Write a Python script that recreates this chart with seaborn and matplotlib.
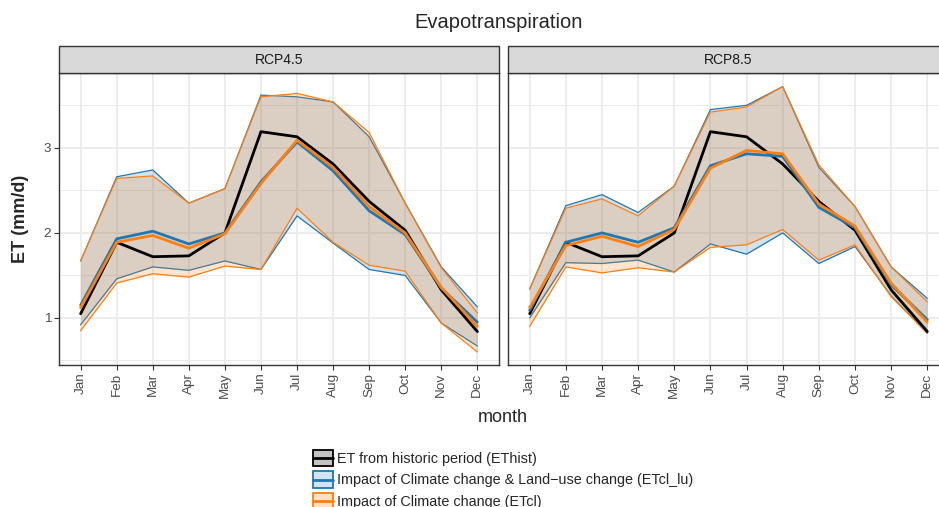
import numpy as np
import pandas as pd
import matplotlib
matplotlib.use('Agg')
import matplotlib.pyplot as plt
import seaborn as sns
from matplotlib.patches import Patch, Rectangle
from matplotlib.lines import Line2D
from matplotlib.legend_handler import HandlerBase
from matplotlib.ticker import MultipleLocator

# ------------------------------------------------------------------
# Data
# ------------------------------------------------------------------

months = ['Jan', 'Feb', 'Mar', 'Apr', 'May', 'Jun',
          'Jul', 'Aug', 'Sep', 'Oct', 'Nov', 'Dec']
scenarios = ['RCP4.5', 'RCP8.5']

# ET from historic period (same in both panels)
et_hist = [1.05, 1.89, 1.72, 1.73, 2.00, 3.19, 3.13, 2.81, 2.37, 2.03, 1.33, 0.84]

# RCP4.5
lu45_mean = [1.15, 1.93, 2.02, 1.87, 2.00, 2.60, 3.07, 2.73, 2.26, 1.98, 1.35, 0.95]
lu45_hi = [1.67, 2.66, 2.74, 2.35, 2.52, 3.62, 3.60, 3.54, 3.13, 2.35, 1.60, 1.13]
lu45_lo = [0.92, 1.46, 1.60, 1.56, 1.67, 1.57, 2.20, 1.88, 1.57, 1.50, 0.94, 0.67]
cl45_mean = [1.12, 1.89, 1.97, 1.82, 1.99, 2.58, 3.09, 2.77, 2.31, 2.00, 1.36, 0.90]
cl45_hi = [1.67, 2.64, 2.67, 2.35, 2.52, 3.60, 3.64, 3.54, 3.18, 2.35, 1.59, 1.06]
cl45_lo = [0.85, 1.41, 1.52, 1.48, 1.61, 1.57, 2.29, 1.89, 1.62, 1.55, 0.94, 0.60]

# RCP8.5
lu85_mean = [1.09, 1.89, 2.00, 1.89, 2.06, 2.79, 2.93, 2.90, 2.30, 2.06, 1.39, 0.98]
lu85_hi = [1.34, 2.32, 2.45, 2.24, 2.55, 3.45, 3.50, 3.72, 2.77, 2.31, 1.60, 1.23]
lu85_lo = [1.00, 1.65, 1.64, 1.68, 1.54, 1.87, 1.75, 2.00, 1.64, 1.84, 1.26, 0.82]
cl85_mean = [1.12, 1.85, 1.96, 1.84, 2.04, 2.76, 2.97, 2.93, 2.34, 2.08, 1.41, 0.95]
cl85_hi = [1.34, 2.29, 2.40, 2.20, 2.55, 3.42, 3.48, 3.72, 2.80, 2.31, 1.60, 1.19]
cl85_lo = [0.90, 1.60, 1.53, 1.59, 1.54, 1.83, 1.86, 2.04, 1.68, 1.86, 1.25, 0.82]

series = ['EThist', 'ETcl_lu', 'ETcl']
labels = ['ET from historic period (EThist)',
          'Impact of Climate change & Land\u2212use change (ETcl_lu)',
          'Impact of Climate change (ETcl)']
palette = {'EThist': 'black', 'ETcl_lu': '#1f77b4', 'ETcl': '#ff7f0e'}
key_fill = {'EThist': '#c3c3c3', 'ETcl_lu': '#d4e3f0', 'ETcl': '#fde1c9'}

# Build long table
rows = []
tables = {
    'RCP4.5': {'EThist': (et_hist, et_hist, et_hist),
               'ETcl_lu': (lu45_mean, lu45_lo, lu45_hi),
               'ETcl': (cl45_mean, cl45_lo, cl45_hi)},
    'RCP8.5': {'EThist': (et_hist, et_hist, et_hist),
               'ETcl_lu': (lu85_mean, lu85_lo, lu85_hi),
               'ETcl': (cl85_mean, cl85_lo, cl85_hi)},
}
for sc in scenarios:
    for s in series:
        m, lo, hi = tables[sc][s]
        for i, mon in enumerate(months):
            rows.append({'scenario': sc, 'series': s, 'month': mon, 'pos': i,
                         'ET': m[i], 'lo': lo[i], 'hi': hi[i]})
df = pd.DataFrame(rows)


# ggplot-like legend key: filled box with a line through the middle
class KeyHandler(HandlerBase):
    def create_artists(self, legend, orig_handle, xdescent, ydescent,
                       width, height, fontsize, trans):
        ec = orig_handle.get_edgecolor()
        box = Rectangle((-xdescent, -ydescent), width, height,
                        facecolor=orig_handle.get_facecolor(), edgecolor=ec,
                        lw=1.3, transform=trans)
        line = Line2D([-xdescent, -xdescent + width],
                      [-ydescent + height / 2] * 2, color=ec, lw=2.0,
                      transform=trans)
        return [box, line]


# ------------------------------------------------------------------
# Plot
# ------------------------------------------------------------------

sns.set_theme(style='white')
plt.rcParams['font.family'] = ['Liberation Sans', 'DejaVu Sans']

fig = plt.figure(figsize=(9.39, 5.07), dpi=100)
W, H = 939, 507
panel_px = [(59, 440), (508, 441)]
top_px, bot_px = 73, 365
strip_h = 27

for k, sc in enumerate(scenarios):
    x0, w = panel_px[k]
    ax = fig.add_axes([x0 / W, 1 - bot_px / H, w / W, (bot_px - top_px) / H])
    sub = df[df['scenario'] == sc]

    # ribbons
    for s in ['ETcl_lu', 'ETcl']:
        d = sub[sub['series'] == s]
        ax.fill_between(d['pos'], d['lo'], d['hi'], color=palette[s],
                        alpha=0.2, lw=0, zorder=2)
        ax.plot(d['pos'], d['lo'], color=palette[s], lw=0.9, zorder=2)
        ax.plot(d['pos'], d['hi'], color=palette[s], lw=0.9, zorder=2)

    # mean lines
    sns.lineplot(data=sub, x='pos', y='ET', hue='series', hue_order=series,
                 palette=palette, lw=2.0, legend=False, ax=ax, zorder=3)

    ax.set_xlim(-0.6, 11.6)
    ax.set_ylim(0.447, 3.88)
    ax.set_xticks(range(len(months)))
    ax.set_xticklabels(months, rotation=90, color='#4d4d4d', fontsize=9.7)
    ax.yaxis.set_major_locator(MultipleLocator(1))
    ax.yaxis.set_minor_locator(MultipleLocator(0.5))
    ax.grid(which='major', color='#ebebeb', lw=1.3)
    ax.grid(which='minor', axis='y', color='#ebebeb', lw=0.7)
    ax.set_axisbelow(True)
    ax.set_xlabel('')
    ax.set_ylabel('')
    ax.tick_params(axis='x', length=3.5, width=0.8, color='#333333', pad=2,
                   bottom=True)
    if k == 0:
        ax.tick_params(axis='y', which='major', length=3.5, width=0.8,
                       color='#333333', labelcolor='#4d4d4d', labelsize=9.7,
                       pad=2, left=True)
        ax.tick_params(axis='y', which='minor', length=0)
    else:
        ax.tick_params(axis='y', which='both', length=0, labelleft=False)
    for sp in ax.spines.values():
        sp.set_color('#333333')
        sp.set_linewidth(1.0)

    # facet strip
    h = strip_h / (bot_px - top_px)
    ax.add_patch(Rectangle((0, 1), 1, h, transform=ax.transAxes,
                           facecolor='#d9d9d9', edgecolor='#333333', lw=1.0,
                           clip_on=False, zorder=5))
    ax.text(0.5, 1 + h / 2, sc, transform=ax.transAxes, ha='center',
            va='center', fontsize=10, color='#1a1a1a', zorder=6)

fig.text(499 / W, 1 - 22 / H, 'Evapotranspiration', ha='center', va='center',
         fontsize=14.5)
fig.text(503 / W, 1 - 417 / H, 'month', ha='center', va='center', fontsize=13)
fig.text(21 / W, 1 - 219 / H, 'ET (mm/d)', ha='center', va='center',
         rotation=90, fontsize=13, fontweight='bold')

# legend
handles = [Patch(facecolor=key_fill[s], edgecolor=palette[s]) for s in series]
fig.legend(handles, labels, handler_map={Patch: KeyHandler()},
           loc='upper left', bbox_to_anchor=(313 / W, 1 - 450 / H),
           frameon=False, borderpad=0, borderaxespad=0, fontsize=10.4,
           handlelength=1.39, handleheight=1.35, labelspacing=0.36,
           handletextpad=0.28)

fig.savefig('out.png', dpi=100)
